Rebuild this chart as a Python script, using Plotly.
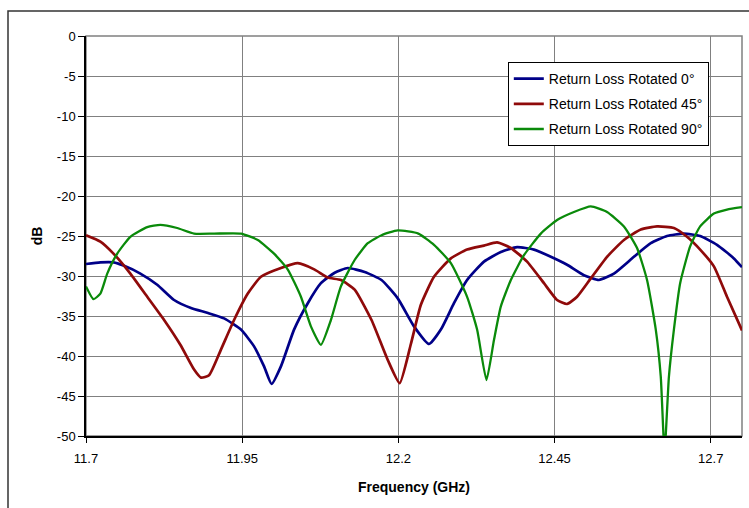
import plotly.graph_objects as go

# Frequency (GHz) / Return loss (dB)
f_0 = [11.700, 11.723, 11.744, 11.760, 11.787, 11.814, 11.841, 11.868, 11.894, 11.921,
       11.948, 11.969, 11.985, 11.997, 12.012, 12.033, 12.055, 12.076, 12.098, 12.119,
       12.146, 12.173, 12.199, 12.225, 12.249, 12.268, 12.289, 12.310, 12.337, 12.364,
       12.390, 12.417, 12.444, 12.470, 12.497, 12.521, 12.545, 12.577, 12.604, 12.630,
       12.657, 12.683, 12.710, 12.737, 12.750]
rl_0 = [-28.5, -28.3, -28.3, -28.7, -29.7, -31.1, -33.0, -34.0, -34.6, -35.3,
        -36.7, -38.8, -41.3, -43.5, -41.3, -36.7, -33.4, -30.9, -29.6, -29.0,
        -29.5, -30.5, -32.8, -36.3, -38.5, -36.7, -33.4, -30.5, -28.2, -27.0,
        -26.4, -26.7, -27.6, -28.6, -29.9, -30.5, -29.7, -27.6, -25.9, -25.0,
        -24.7, -25.0, -26.1, -27.8, -28.9]

f_45 = [11.700, 11.723, 11.744, 11.771, 11.798, 11.825, 11.851, 11.873, 11.884, 11.897,
        11.916, 11.937, 11.959, 11.980, 12.012, 12.039, 12.066, 12.087, 12.108, 12.130,
        12.157, 12.183, 12.202, 12.220, 12.236, 12.257, 12.284, 12.310, 12.337, 12.358,
        12.380, 12.406, 12.433, 12.454, 12.470, 12.486, 12.508, 12.534, 12.561, 12.588,
        12.614, 12.641, 12.662, 12.683, 12.705, 12.726, 12.750]
rl_45 = [-24.9, -25.7, -27.2, -29.7, -32.6, -35.5, -38.6, -41.7, -42.7, -42.4,
         -39.2, -35.5, -32.2, -30.1, -29.0, -28.4, -29.2, -30.2, -30.5, -31.7,
         -35.5, -40.5, -43.4, -38.5, -33.6, -30.1, -27.8, -26.7, -26.2, -25.8,
         -26.5, -28.2, -30.9, -33.0, -33.5, -32.6, -30.3, -27.6, -25.5, -24.2,
         -23.8, -24.0, -25.1, -26.7, -28.8, -32.6, -36.8]

f_90 = [11.700, 11.712, 11.723, 11.734, 11.750, 11.771, 11.798, 11.819, 11.846, 11.873,
        11.905, 11.948, 11.975, 12.001, 12.023, 12.044, 12.060, 12.076, 12.092, 12.108,
        12.130, 12.151, 12.173, 12.199, 12.232, 12.257, 12.284, 12.310, 12.326, 12.341,
        12.353, 12.364, 12.380, 12.401, 12.428, 12.454, 12.481, 12.508, 12.534, 12.561,
        12.582, 12.598, 12.612, 12.620, 12.626, 12.633, 12.641, 12.651, 12.667, 12.683,
        12.705, 12.726, 12.750]
rl_90 = [-31.3, -32.9, -32.2, -29.7, -27.2, -25.1, -23.9, -23.6, -24.0, -24.7,
         -24.7, -24.7, -25.5, -27.2, -29.2, -32.6, -36.3, -38.6, -35.5, -31.3,
         -28.0, -25.9, -24.9, -24.3, -24.7, -26.1, -28.4, -32.6, -36.7, -43.0,
         -38.0, -33.8, -30.5, -27.4, -24.7, -23.0, -22.0, -21.3, -22.0, -23.8,
         -26.5, -30.5, -36.7, -42.6, -52.0, -42.6, -36.7, -30.9, -26.3, -23.8,
         -22.2, -21.7, -21.4]

names = ["Return Loss Rotated 0°", "Return Loss Rotated 45°", "Return Loss Rotated 90°"]
colors = ["#000088", "#8f0a0a", "#0a8a0a"]
widths = [2.7, 2.7, 2.3]

x_ticks = [11.7, 11.95, 12.2, 12.45, 12.7]
x_tick_labels = ["11.7", "11.95", "12.2", "12.45", "12.7"]
y_ticks = [0, -5, -10, -15, -20, -25, -30, -35, -40, -45, -50]
y_tick_labels = ["0", "-5", "-10", "-15", "-20", "-25", "-30", "-35", "-40", "-45", "-50"]

FONT = "Liberation Sans, Arial, sans-serif"

fig = go.Figure()
for i, (xs, ys) in enumerate([(f_0, rl_0), (f_45, rl_45), (f_90, rl_90)]):
    fig.add_trace(go.Scatter(
        x=xs, y=ys, mode="lines", name=names[i], legendgroup=f"g{i}",
        line=dict(color=colors[i], width=widths[i], shape="spline", smoothing=0.5),
    ))

fig.update_layout(
    width=749, height=508,
    margin=dict(l=86, r=7, t=36, b=72),
    paper_bgcolor="white", plot_bgcolor="white",
    font=dict(family=FONT, size=13, color="black"),
    showlegend=True,
    legend=dict(
        x=0.643, y=0.935, xanchor="left", yanchor="top",
        bgcolor="white", bordercolor="black", borderwidth=1,
        font=dict(family=FONT, size=14, color="black"),
        tracegroupgap=4, itemwidth=30,
    ),
    xaxis=dict(
        range=[11.7, 12.75], tickvals=x_ticks, ticktext=x_tick_labels,
        showgrid=True, gridcolor="#808080", gridwidth=1,
        showline=True, linecolor="black", linewidth=1.5,
        ticks="outside", ticklen=5, tickcolor="black",
        tickfont=dict(family=FONT, size=13), ticklabelstandoff=5,
        zeroline=False,
        title=dict(text="<b>Frequency (GHz)</b>", font=dict(family=FONT, size=14), standoff=17),
    ),
    yaxis=dict(
        range=[-50, 0], tickvals=y_ticks, ticktext=y_tick_labels,
        showgrid=True, gridcolor="#808080", gridwidth=1,
        showline=True, linecolor="black", linewidth=1.5,
        ticks="outside", ticklen=6, tickcolor="black",
        tickfont=dict(family=FONT, size=13),
        zeroline=False,
        title=dict(text="<b>dB</b>", font=dict(family=FONT, size=14), standoff=11),
    ),
    shapes=[
        # plot area frame (gray)
        dict(type="rect", xref="paper", yref="paper", x0=0, y0=0, x1=1, y1=1,
             line=dict(color="#808080", width=1.5), layer="below"),
        # outer chart frame
        dict(type="rect", xref="paper", yref="paper",
             x0=-0.1189, y0=-0.25, x1=1.05, y1=1.0625,
             line=dict(color="#333333", width=1.5), layer="below"),
    ],
)

fig.write_html("out.html")
